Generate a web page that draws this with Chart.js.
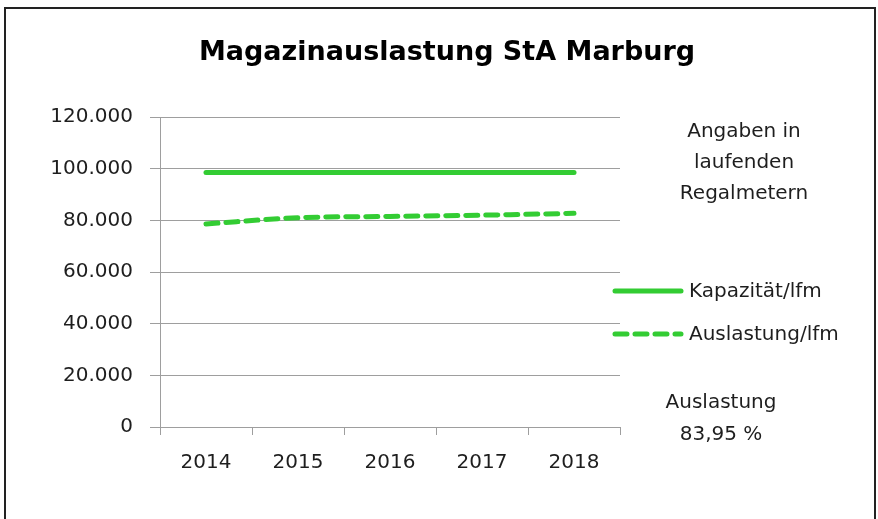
<!DOCTYPE html>
<html>
<head>
<meta charset="utf-8">
<script src="https://cdn.jsdelivr.net/npm/chart.js@4.4.0/dist/chart.umd.min.js"></script>
<style>
  html, body { margin: 0; padding: 0; background: #fff; overflow: hidden; }
  #wrap { width: 878px; height: 519px; }
</style>
</head>
<body>
<div id="wrap"><canvas id="myChart" width="878" height="519"></canvas></div>
<script>
const years = ['2014', '2015', '2016', '2017', '2018'];
const kapazitaet = [98500, 98500, 98500, 98500, 98500];
const auslastung = [78600, 81000, 81500, 82000, 82700];
const yTicks = [0, 20000, 40000, 60000, 80000, 100000, 120000];
const titleText = 'Magazinauslastung StA Marburg';
const noteTop = ['Angaben in', 'laufenden', 'Regalmetern'];
const noteBottom = ['Auslastung', '83,95 %'];

const green = '#33cc33';
const fontFam = '"DejaVu Sans", sans-serif';

function fmt(v) {
    return String(v).replace(/\B(?=(\d{3})+(?!\d))/g, '.');
}

// frame, title, side notes and legend
const extras = {
    id: 'extras',
    beforeDraw(chart) {
        const c = chart.ctx;
        c.save();
        c.fillStyle = '#fff';
        c.fillRect(0, 0, chart.width, chart.height);
        c.strokeStyle = '#222';
        c.lineWidth = 2;
        c.strokeRect(5, 8, 870, 540);
        c.restore();
    },
    afterDraw(chart) {
        const c = chart.ctx;
        c.save();
        c.textBaseline = 'middle';
        c.textAlign = 'center';
        c.fillStyle = '#000';
        c.font = 'bold 27px ' + fontFam;
        c.fillText(titleText, 447, 53);

        c.fillStyle = '#1e1e1e';
        c.font = '20px ' + fontFam;
        noteTop.forEach((t, i) => c.fillText(t, 744, 132 + i * 31));
        noteBottom.forEach((t, i) => c.fillText(t, 721, 403 + i * 32));

        chart.data.datasets.forEach((ds, i) => {
            const y = 291 + i * 43;
            c.strokeStyle = ds.borderColor;
            c.lineWidth = ds.borderWidth;
            c.lineCap = 'round';
            c.setLineDash(ds.borderDash || []);
            c.beginPath();
            c.moveTo(615, y);
            c.lineTo(681, y);
            c.stroke();
            c.setLineDash([]);
            c.textAlign = 'left';
            c.fillText(ds.label, 689, y + 1);
        });
        c.restore();
    }
};

new Chart(document.getElementById('myChart'), {
    type: 'line',
    data: {
        labels: years,
        datasets: [{
            label: 'Kapazität/lfm',
            data: kapazitaet,
            borderColor: green,
            borderWidth: 5,
            borderCapStyle: 'round',
            pointRadius: 0,
            fill: false
        }, {
            label: 'Auslastung/lfm',
            data: auslastung,
            borderColor: green,
            borderWidth: 5,
            borderDash: [12, 8],
            borderCapStyle: 'round',
            pointRadius: 0,
            fill: false,
            cubicInterpolationMode: 'monotone'
        }]
    },
    options: {
        responsive: false,
        animation: false,
        layout: { padding: { left: 0, right: 258, top: 117, bottom: 0 } },
        plugins: {
            legend: { display: false },
            tooltip: { enabled: false },
            title: { display: false }
        },
        scales: {
            x: {
                offset: true,
                grid: { drawOnChartArea: false, offset: true, color: '#9e9e9e', tickLength: 8 },
                border: { color: '#9e9e9e' },
                ticks: { color: '#1e1e1e', font: { family: fontFam, size: 20 }, padding: 16 },
                afterFit(s) { s.height = 92; }
            },
            y: {
                min: 0,
                max: 120000,
                afterBuildTicks(s) { s.ticks = yTicks.map(v => ({ value: v })); },
                grid: { color: '#9e9e9e', tickLength: 10 },
                border: { color: '#9e9e9e' },
                ticks: { color: '#1e1e1e', font: { family: fontFam, size: 20 }, padding: 17, callback: v => fmt(v) },
                afterFit(s) { s.width = 160; }
            }
        }
    },
    plugins: [extras]
});
</script>
</body>
</html>
